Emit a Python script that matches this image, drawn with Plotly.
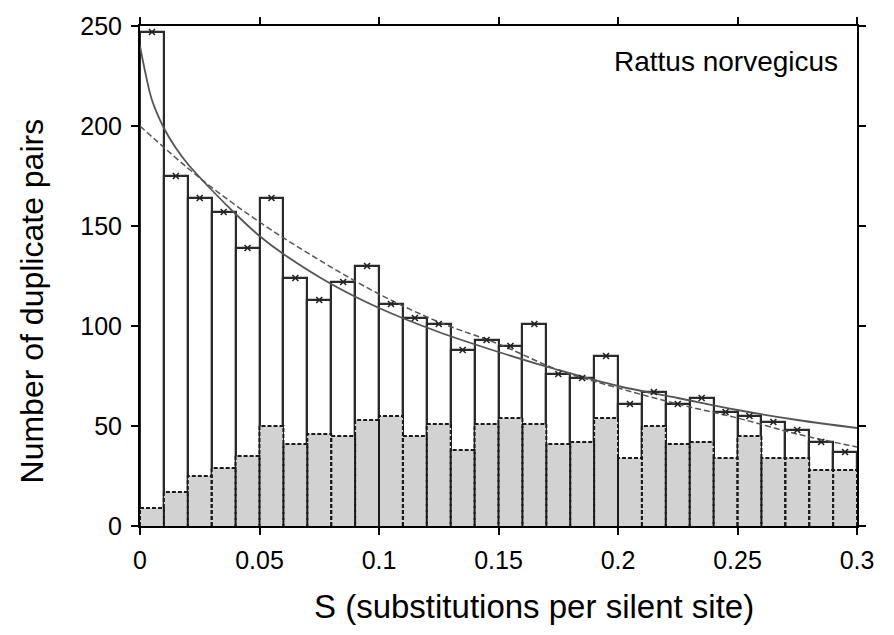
import plotly.graph_objects as go

# Bin left edges (width 0.01) and counts
bin_width = 0.01
bin_left = [round(i * 0.01, 2) for i in range(30)]
total_pairs = [247, 175, 164, 157, 139, 164, 124, 113, 122, 130,
               111, 104, 101, 88, 93, 90, 101, 76, 74, 85,
               61, 67, 61, 64, 57, 55, 52, 48, 42, 37]
gray_pairs = [9, 17, 25, 29, 35, 50, 41, 46, 45, 53,
              55, 45, 51, 38, 51, 54, 51, 41, 42, 54,
              34, 50, 41, 42, 34, 45, 34, 34, 28, 28]

# Fitted curves
solid_x = [0, 0.002, 0.005, 0.01, 0.015, 0.02, 0.03, 0.04, 0.05, 0.06, 0.08,
           0.1, 0.125, 0.15, 0.175, 0.2, 0.225, 0.25, 0.275, 0.3]
solid_y = [240, 228, 213, 199, 189, 181, 168, 156, 145, 136, 121,
           109, 97, 87, 78, 70, 64, 58, 53, 49]
dash_x = [0, 0.025, 0.05, 0.075, 0.1, 0.125, 0.15, 0.175, 0.2, 0.225, 0.25, 0.275, 0.3]
dash_y = [200, 174, 152, 133, 116, 102, 91, 78, 69, 61, 54, 46, 39.5]

x_ticks = [0, 0.05, 0.1, 0.15, 0.2, 0.25, 0.3]
x_ticktext = ["0", "0.05", "0.1", "0.15", "0.2", "0.25", "0.3"]
y_ticks = [0, 50, 100, 150, 200, 250]

centers = [b + bin_width / 2 for b in bin_left]

fig = go.Figure()

# White total bars
fig.add_trace(go.Bar(x=centers, y=total_pairs, width=bin_width,
                     marker=dict(color="white", line=dict(color="#2a2a2a", width=2.2)),
                     showlegend=False, hoverinfo="skip"))
# Gray bars
fig.add_trace(go.Bar(x=centers, y=gray_pairs, width=bin_width,
                     marker=dict(color="#d2d2d2", line=dict(width=0)),
                     showlegend=False, hoverinfo="skip"))

# Dashed outlines for gray bars
ox, oy = [], []
for b, g in zip(bin_left, gray_pairs):
    ox += [b, b, b + bin_width, b + bin_width, None]
    oy += [0, g, g, 0, None]
fig.add_trace(go.Scatter(x=ox, y=oy, mode="lines",
                         line=dict(color="#1a1a1a", width=2, dash="4px,2px"),
                         showlegend=False, hoverinfo="skip"))

# Curves
fig.add_trace(go.Scatter(x=dash_x, y=dash_y, mode="lines", line_shape="spline",
                         line=dict(color="#555555", width=1.5, dash="6px,3px"),
                         showlegend=False, hoverinfo="skip"))
fig.add_trace(go.Scatter(x=solid_x, y=solid_y, mode="lines", line_shape="spline",
                         line=dict(color="#555555", width=1.8),
                         showlegend=False, hoverinfo="skip"))

# Markers at bar tops
fig.add_trace(go.Scatter(x=centers, y=total_pairs, mode="markers",
                         marker=dict(symbol="x-thin", size=6,
                                     line=dict(color="#222222", width=1.6)),
                         showlegend=False, hoverinfo="skip"))

fig.add_annotation(text="Rattus norvegicus", xref="paper", yref="paper",
                   x=0.976, y=0.929, xanchor="right", yanchor="middle",
                   showarrow=False, font=dict(size=28, color="black"))

# Axis titles (placed as in the reference)
fig.add_annotation(text="S (substitutions per silent site)", xref="paper", yref="paper",
                   x=0.55, y=-0.16, xanchor="center", yanchor="middle",
                   showarrow=False, font=dict(size=33, color="black"))
fig.add_annotation(text="Number of duplicate pairs", xref="paper", yref="paper",
                   x=-0.15, y=0.45, xanchor="center", yanchor="middle", textangle=-90,
                   showarrow=False, font=dict(size=32, color="black"))

axis_common = dict(showline=True, linecolor="black", linewidth=2, mirror="ticks",
                   ticks="outside", ticklen=7, tickwidth=1.5, tickcolor="black",
                   showgrid=False, zeroline=False,
                   tickfont=dict(size=25, color="black"))

fig.update_layout(
    width=894, height=635,
    margin=dict(l=140, r=37, t=21, b=109),
    paper_bgcolor="white", plot_bgcolor="white",
    font=dict(family="Liberation Sans, Arial, sans-serif", color="black"),
    barmode="overlay", bargap=0,
    xaxis=dict(range=[0, 0.3], tickvals=x_ticks, ticktext=x_ticktext,
               ticklabelstandoff=4, **axis_common),
    yaxis=dict(range=[0, 250], tickvals=y_ticks,
               ticklabelstandoff=4, **axis_common),
)

fig.write_html("out.html")
